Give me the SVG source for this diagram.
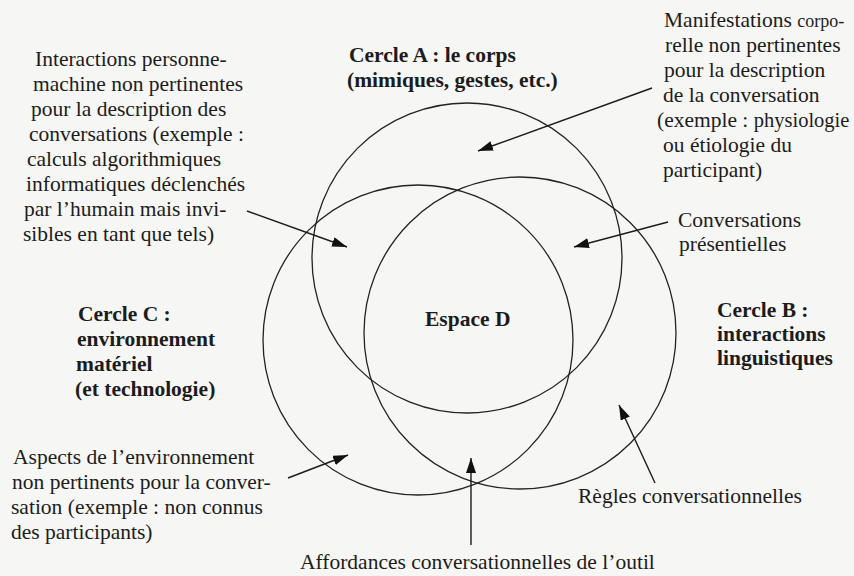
<svg xmlns="http://www.w3.org/2000/svg" width="854" height="576" viewBox="0 0 854 576">
<defs>
<style>
.bg{fill:#f6f6f4}
.c{fill:none;stroke:#232323;stroke-width:1.3}
.t{font-family:"Liberation Serif","Times New Roman",serif;font-size:21.5px;fill:#1c1c1c}
.b{font-weight:bold}
.a{fill:none;stroke:#1c1c1c;stroke-width:1.4;marker-end:url(#ah)}
</style>
<marker id="ah" markerUnits="userSpaceOnUse" markerWidth="16" markerHeight="12" refX="15" refY="5" orient="auto">
<path d="M0,0 L15,5 L0,10 z" fill="#111"/>
</marker>
</defs>
<rect class="bg" x="0" y="0" width="854" height="576"/>

<g id="circleA">
<circle class="c" cx="467" cy="258" r="155"/>
<text class="t b" x="349" y="62">Cercle A : le corps</text>
<text class="t b" x="347" y="87">(mimiques, gestes, etc.)</text>
</g>

<g id="circleC">
<circle class="c" cx="418" cy="340" r="155"/>
<text class="t b" x="78" y="321">Cercle C :</text>
<text class="t b" x="77" y="346">environnement</text>
<text class="t b" x="76" y="371">matériel</text>
<text class="t b" x="75" y="396">(et technologie)</text>
</g>

<g id="circleB">
<circle class="c" cx="520" cy="333" r="156"/>
<text class="t b" x="717" y="317">Cercle B :</text>
<text class="t b" x="717" y="341">interactions</text>
<text class="t b" x="717" y="365">linguistiques</text>
</g>

<g id="espaceD">
<text class="t b" x="425" y="326">Espace D</text>
</g>

<g id="noteInteractions">
<text class="t" x="35" y="66">Interactions personne-</text>
<text class="t" x="33" y="91">machine non pertinentes</text>
<text class="t" x="31" y="116">pour la description des</text>
<text class="t" x="29" y="141">conversations (exemple :</text>
<text class="t" x="27" y="166">calculs algorithmiques</text>
<text class="t" x="26" y="191">informatiques déclenchés</text>
<text class="t" x="24" y="216">par l’humain mais invi-</text>
<text class="t" x="23" y="241">sibles en tant que tels)</text>
</g>

<g id="noteManifestations">
<text class="t" x="664" y="27">Manifestations <tspan font-size="18">corpo-</tspan></text>
<text class="t" x="665" y="52">relle non pertinentes</text>
<text class="t" x="664" y="77">pour la description</text>
<text class="t" x="663" y="102">de la conversation</text>
<text class="t" x="657" y="127">(exemple : <tspan font-size="20.5">physiologie</tspan></text>
<text class="t" x="663" y="152">ou étiologie du</text>
<text class="t" x="663" y="177">participant)</text>
</g>

<g id="notePresentielles">
<text class="t" x="678" y="227">Conversations</text>
<text class="t" x="679" y="251">présentielles</text>
</g>

<g id="noteAspects">
<text class="t" x="13" y="464">Aspects de l’environnement</text>
<text class="t" x="12" y="489">non pertinents pour la conver-</text>
<text class="t" x="11" y="514">sation (exemple : non connus</text>
<text class="t" x="11" y="539">des participants)</text>
</g>

<g id="noteRegles">
<text class="t" x="578" y="503">Règles conversationnelles</text>
</g>

<g id="noteAffordances">
<text class="t" x="300" y="569">Affordances conversationnelles de l’outil</text>
</g>

<g id="connectors">
<line class="a" x1="247" y1="211" x2="347" y2="247"/>
<line class="a" x1="652" y1="88" x2="478" y2="151"/>
<line class="a" x1="668" y1="222" x2="574" y2="247"/>
<line class="a" x1="288" y1="478" x2="348" y2="455"/>
<line class="a" x1="471" y1="545" x2="471" y2="458"/>
<line class="a" x1="655" y1="483" x2="619" y2="405"/>
</g>
</svg>
